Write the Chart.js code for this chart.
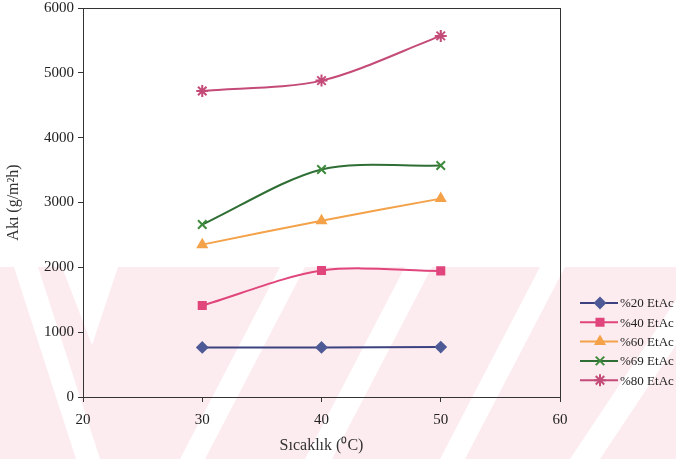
<!DOCTYPE html>
<html>
<head>
<meta charset="utf-8">
<script src="https://cdn.jsdelivr.net/npm/chart.js@4.4.0/dist/chart.umd.min.js"></script>
<style>
  html, body { margin: 0; padding: 0; background: #fff; }
  #wrap { width: 676px; height: 459px; position: relative; }
</style>
</head>
<body>
<div id="wrap"><canvas id="akiChart"></canvas></div>
<script>
"use strict";

// sıcaklık (x) değerleri
const sicaklik = [30, 40, 50];

// akı değerleri (g/m2h)
const etac20 = [765, 765, 770];
const etac40 = [1410, 1950, 1945];
const etac60 = [2350, 2720, 3060];
const etac69 = [2660, 3510, 3570];
const etac80 = [4720, 4880, 5570];

const seriesNames = ['%20 EtAc', '%40 EtAc', '%60 EtAc', '%69 EtAc', '%80 EtAc'];

const xTicks = [20, 30, 40, 50, 60];
const yTicks = [0, 1000, 2000, 3000, 4000, 5000, 6000];

const fontFam = '"Liberation Serif", "Times New Roman", serif';

function pts(ys) {
    return sicaklik.map((x, i) => ({ x: x, y: ys[i] }));
}

function ds(label, ys, line, fill, style, r) {
    return {
        label: label,
        data: pts(ys),
        borderColor: line,
        backgroundColor: fill,
        pointBackgroundColor: fill,
        pointBorderColor: fill,
        pointStyle: style,
        pointRadius: r,
        pointBorderWidth: 2,
        borderWidth: 2,
        tension: 0.3
    };
}

// arka plandaki soluk filigran
const watermark = {
    id: 'watermark',
    beforeDraw(chart) {
        const c = chart.ctx;
        c.save();
        c.fillStyle = '#fdecef';
        c.fillRect(0, 267, 676, 192);
        c.fillStyle = '#ffffff';
        const white = [
            [[14, 267], [38, 267], [100, 459], [76, 459]],
            [[62, 267], [118, 267], [92, 345]],
            [[280, 267], [305, 267], [205, 459], [180, 459]],
            [[405, 267], [432, 267], [332, 459], [305, 459]],
            [[540, 267], [565, 267], [465, 459], [440, 459]],
            [[676, 300], [676, 345], [600, 459], [570, 459]]
        ];
        white.forEach(p => {
            c.beginPath();
            c.moveTo(p[0][0], p[0][1]);
            for (let i = 1; i < p.length; i++) c.lineTo(p[i][0], p[i][1]);
            c.closePath();
            c.fill();
        });
        c.restore();
    }
};

// çizgili lejant
const lineLegend = {
    id: 'lineLegend',
    afterDraw(chart) {
        const c = chart.ctx;
        c.save();
        chart.data.datasets.forEach((d, i) => {
            const y = 303 + i * 19.3;
            c.strokeStyle = d.borderColor;
            c.lineWidth = 2;
            c.beginPath();
            c.moveTo(580, y);
            c.lineTo(618, y);
            c.stroke();
            c.fillStyle = d.pointBackgroundColor;
            c.strokeStyle = d.pointBorderColor;
            Chart.helpers.drawPoint(c, {
                pointStyle: d.pointStyle,
                radius: d.pointRadius,
                borderWidth: 2
            }, 600, y);
            c.fillStyle = '#222';
            c.font = '13px ' + fontFam;
            c.textBaseline = 'middle';
            c.textAlign = 'left';
            c.fillText(seriesNames[i], 620, y + 1);
        });
        c.restore();
    }
};

// çerçeve
const frame = {
    id: 'frame',
    afterDatasetsDraw(chart) {
        const a = chart.chartArea;
        const c = chart.ctx;
        c.save();
        c.strokeStyle = '#333';
        c.lineWidth = 1;
        c.strokeRect(a.left + 0.5, a.top + 0.5, a.right - a.left, a.bottom - a.top);
        c.restore();
    }
};

const ctx = document.getElementById('akiChart');

new Chart(ctx, {
    type: 'line',
    data: {
        datasets: [
            ds(seriesNames[0], etac20, '#3c4180', '#4e5a96', 'rectRot', 5),
            ds(seriesNames[1], etac40, '#e0457c', '#e0457c', 'rect', 5),
            ds(seriesNames[2], etac60, '#f4a24a', '#f4a24a', 'triangle', 5),
            ds(seriesNames[3], etac69, '#2f6e34', '#3d8a3d', 'crossRot', 6),
            ds(seriesNames[4], etac80, '#c44a78', '#c44a78', 'star', 6)
        ]
    },
    options: {
        responsive: true,
        maintainAspectRatio: false,
        animation: false,
        layout: { padding: { top: 7, right: 116, left: 0, bottom: 0 } },
        plugins: {
            legend: { display: false },
            tooltip: { enabled: false }
        },
        scales: {
            x: {
                type: 'linear',
                min: 20,
                max: 60,
                afterBuildTicks: s => { s.ticks = xTicks.map(v => ({ value: v })); },
                afterFit: s => { s.height = 62; },
                border: { color: '#333' },
                grid: { drawOnChartArea: false, tickLength: 5, color: '#333' },
                ticks: { color: '#222', font: { family: fontFam, size: 15 }, padding: 9 },
                title: {
                    display: true,
                    text: 'Sıcaklık (⁰C)',
                    color: '#333',
                    font: { family: fontFam, size: 16 },
                    padding: { top: 0 }
                }
            },
            y: {
                min: 0,
                max: 6000,
                afterBuildTicks: s => { s.ticks = yTicks.map(v => ({ value: v })); },
                afterFit: s => { s.width = 83; s.paddingTop = 0; s.paddingBottom = 0; },
                border: { color: '#333' },
                grid: { drawOnChartArea: false, tickLength: 5, color: '#333' },
                ticks: {
                    color: '#222',
                    font: { family: fontFam, size: 15 },
                    padding: 4,
                    callback: v => String(v)
                },
                title: {
                    display: true,
                    text: 'Akı (g/m²h)',
                    color: '#333',
                    font: { family: fontFam, size: 16 },
                    padding: { bottom: 6 }
                }
            }
        }
    },
    plugins: [watermark, frame, lineLegend]
});
</script>
</body>
</html>
